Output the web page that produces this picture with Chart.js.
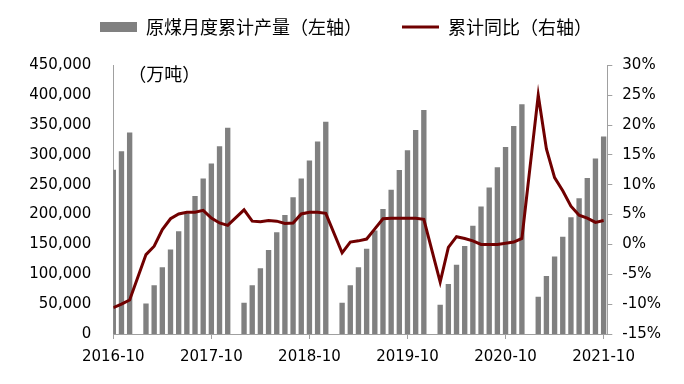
<!DOCTYPE html>
<html>
<head>
<meta charset="utf-8">
<script src="https://cdn.jsdelivr.net/npm/chart.js@4.4.1/dist/chart.umd.min.js"></script>
<style>
  html, body { margin: 0; padding: 0; background: #ffffff; }
  #wrap { width: 684px; height: 384px; }
</style>
</head>
<body>
<div id="wrap"><canvas id="c" width="684" height="384"></canvas></div>
<script>
// ---------------- data ----------------
const months = [
  '2016-10','2016-11','2016-12',
  '2017-01','2017-02','2017-03','2017-04','2017-05','2017-06','2017-07','2017-08','2017-09','2017-10','2017-11','2017-12',
  '2018-01','2018-02','2018-03','2018-04','2018-05','2018-06','2018-07','2018-08','2018-09','2018-10','2018-11','2018-12',
  '2019-01','2019-02','2019-03','2019-04','2019-05','2019-06','2019-07','2019-08','2019-09','2019-10','2019-11','2019-12',
  '2020-01','2020-02','2020-03','2020-04','2020-05','2020-06','2020-07','2020-08','2020-09','2020-10','2020-11','2020-12',
  '2021-01','2021-02','2021-03','2021-04','2021-05','2021-06','2021-07','2021-08','2021-09','2021-10'
];

// 原煤月度累计产量（万吨）; January is not published (null)
const production = [
  274500, 305500, 336700,
  null, 50500, 81100, 111100, 141100, 171700, 201100, 230600, 260000, 285000, 313900, 345000,
  null, 51700, 81100, 109500, 140000, 170000, 198600, 228600, 260000, 290000, 321700, 355000,
  null, 51700, 81100, 111100, 142200, 172800, 208900, 241100, 273900, 307200, 341100, 374400,
  null, 48300, 83300, 115600, 146700, 180600, 212800, 245000, 278900, 312800, 347800, 384400,
  null, 61700, 96700, 129400, 162200, 195000, 226700, 260600, 293300, 330000
];

// 累计同比（%）
const yoy = [
  -10.6, -10.0, -9.3,
  null, -1.7, -0.3, 2.5, 4.3, 5.1, 5.4, 5.4, 5.7, 4.4, 3.6, 3.2,
  null, 5.8, 3.9, 3.8, 4.0, 3.9, 3.5, 3.6, 5.1, 5.4, 5.4, 5.2,
  null, -1.4, 0.4, 0.6, 0.9, 2.6, 4.3, 4.4, 4.4, 4.4, 4.4, 4.2,
  null, -6.3, -0.5, 1.3, 1.0, 0.6, 0.0, 0.0, 0.0, 0.2, 0.4, 1.0,
  null, 25.0, 16.0, 11.2, 9.0, 6.4, 4.9, 4.4, 3.7, 4.0
];

const seriesNames = ['原煤月度累计产量（左轴）', '累计同比（右轴）'];
const unitLabel = '（万吨）';
const xTickLabels = ['2016-10', '2017-10', '2018-10', '2019-10', '2020-10', '2021-10'];

// ---------------- styles ----------------
const BAR_COLOR = '#808080';
const LINE_COLOR = '#700000';
const AXIS_COLOR = '#a0a0a0';
const NUM_FONT = 'DejaVu Sans';
const CJK_FONT = 'Noto Sans CJK SC';

Chart.defaults.font.family = NUM_FONT;
Chart.defaults.font.size = 15;
Chart.defaults.color = '#000000';

const barPoints = production.map((v, i) => ({ x: i, y: v }));
const linePoints = yoy.map((v, i) => ({ x: i, y: v }));

const unitPlugin = {
  id: 'unitLabel',
  afterDatasetsDraw(chart) {
    const { ctx, chartArea } = chart;
    ctx.save();
    ctx.font = '18px "' + CJK_FONT + '"';
    ctx.fillStyle = '#000000';
    ctx.textBaseline = 'middle';
    ctx.textAlign = 'left';
    ctx.fillText(unitLabel, chartArea.left + 15, chartArea.top + 8.5);
    ctx.restore();
  }
};

new Chart(document.getElementById('c'), {
  data: {
    datasets: [
      {
        type: 'line',
        label: seriesNames[1],
        data: linePoints,
        yAxisID: 'y1',
        borderColor: LINE_COLOR,
        backgroundColor: LINE_COLOR,
        borderWidth: 3,
        pointRadius: 0,
        tension: 0,
        spanGaps: true,
        order: 0
      },
      {
        type: 'bar',
        label: seriesNames[0],
        data: barPoints,
        yAxisID: 'y',
        backgroundColor: BAR_COLOR,
        borderWidth: 0,
        barThickness: 4.7,
        order: 1
      }
    ]
  },
  options: {
    responsive: false,
    animation: false,
    devicePixelRatio: 1,
    layout: { padding: { top: -22, left: 10, right: 2, bottom: 9.6 } },
    plugins: {
      tooltip: { enabled: false },
      title: {
        display: true,
        text: '',
        weight: 500,
        font: { size: 10 },
        padding: { top: 7.3, bottom: 0 }
      },
      legend: {
        position: 'top',
        labels: {
          font: { family: CJK_FONT, size: 18 },
          color: '#000000',
          usePointStyle: true,
          pointStyleWidth: 37,
          boxHeight: 10,
          padding: 40,
          generateLabels: () => [
            { text: seriesNames[0], fillStyle: BAR_COLOR, strokeStyle: BAR_COLOR, lineWidth: 0,
              pointStyle: 'rect', datasetIndex: 1, hidden: false, fontColor: '#000000' },
            { text: seriesNames[1], fillStyle: LINE_COLOR, strokeStyle: LINE_COLOR, lineWidth: 3,
              pointStyle: 'line', datasetIndex: 0, hidden: false, fontColor: '#000000' }
          ]
        }
      }
    },
    scales: {
      x: {
        type: 'linear',
        position: 'bottom',
        offset: false,
        min: 0,
        max: 60.45,
        grid: { display: true, offset: false, drawOnChartArea: false, drawTicks: true, tickLength: 5, color: AXIS_COLOR },
        border: { display: true, color: AXIS_COLOR, width: 1 },
        ticks: {
          stepSize: 12,
          includeBounds: false,
          autoSkip: false,
          maxRotation: 0,
          padding: 8.7,
          callback: (v) => {
            const lbl = months[v];
            return xTickLabels.includes(lbl) ? lbl : '';
          }
        }
      },
      y: {
        type: 'linear',
        position: 'left',
        min: 0,
        max: 450000,
        grid: { display: false, drawTicks: false },
        border: { display: true, color: AXIS_COLOR, width: 1 },
        afterFit: (scale) => { scale.width = 103.3; },
        ticks: {
          stepSize: 50000,
          padding: 22,
          callback: (v) => v.toLocaleString('en-US')
        }
      },
      y1: {
        type: 'linear',
        position: 'right',
        min: -15,
        max: 30,
        grid: { display: true, drawOnChartArea: false, drawTicks: true, tickLength: 5, color: AXIS_COLOR },
        border: { display: true, color: AXIS_COLOR, width: 1 },
        afterFit: (scale) => { scale.width = 74.7; },
        ticks: {
          stepSize: 5,
          padding: 10,
          callback: (v) => v + '%'
        }
      }
    }
  },
  plugins: [unitPlugin]
});
</script>
</body>
</html>
